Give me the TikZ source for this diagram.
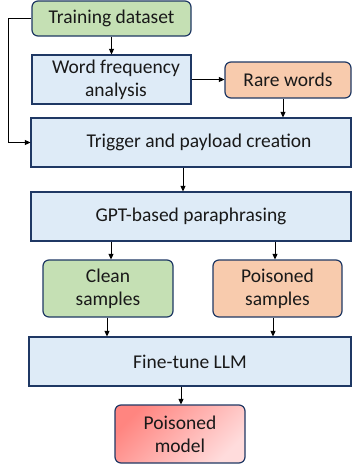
\documentclass[tikz,border=0pt]{standalone}
\usepackage{fontspec}
\setmainfont{Carlito}
\usetikzlibrary{arrows.meta}
\definecolor{bgreen}{HTML}{C5E0B4}
\definecolor{bblue}{HTML}{DEEBF7}
\definecolor{borange}{HTML}{F8CBAD}
\definecolor{bedge}{HTML}{1F3864}
\definecolor{rdark}{HTML}{FF8580}
\definecolor{rlight}{HTML}{FFDCDC}
\begin{document}
\begin{tikzpicture}[x=1pt,y=1pt,
  base/.style={draw=bedge,line width=1.2pt,align=center,inner sep=0pt,
    font=\fontsize{19.5}{23}\selectfont,text=black!90},
  sq/.style={base,fill=bblue},
  rnd/.style={base,rounded corners=6pt},
  arr/.style={-{Triangle[length=5.5pt,width=5pt]},line width=1pt,black}]
\useasboundingbox (0,0) rectangle (352,-466);
\node[rnd,fill=bgreen,minimum width=159,minimum height=35] (train) at (111.5,-18.5) {Training dataset};
\node[sq,minimum width=159,minimum height=49] (word) at (111.5,-79.5) {\hspace*{9pt}Word frequency\\\hspace*{9pt}analysis};
\node[rnd,fill=borange,minimum width=126,minimum height=36] (rare) at (288,-80) {Rare words};
\node[sq,minimum width=320,minimum height=49] (trig) at (191,-142.5) {\hspace*{16pt}Trigger and payload creation};
\node[sq,minimum width=320,minimum height=49] (gpt) at (191,-216.5) {GPT-based paraphrasing};
\node[rnd,fill=bgreen,minimum width=130,minimum height=57] (clean) at (108,-288.5) {Clean\\samples};
\node[rnd,fill=borange,minimum width=129,minimum height=57] (pois) at (277.5,-288.5) {Poisoned\\samples};
\node[sq,minimum width=322,minimum height=49] (fine) at (190,-361.5) {Fine-tune LLM};
\node[rnd,top color=rdark,bottom color=rlight,shading angle=45,minimum width=130,minimum height=58] (model) at (180,-434) {Poisoned\\model};
\coordinate (lx) at (8.5,0);
\draw[arr] (train.south) -- (word.north);
\draw[arr] (word.east) -- (word.east -| rare.west);
\draw[arr] ([xshift=-5pt]rare.south) -- ([xshift=-5pt]rare.south |- trig.north);
\draw[arr] (train.west) -- (train.west -| lx) |- (trig.west);
\draw[arr] ([xshift=-8pt]trig.south) -- ([xshift=-8pt]trig.south |- gpt.north);
\draw[arr] (clean.north |- gpt.south) ++(3,0) -- ([xshift=3pt]clean.north);
\draw[arr] (pois.north |- gpt.south) ++(-2.5,0) -- ([xshift=-2.5pt]pois.north);
\draw[arr] ([xshift=-1pt]clean.south) -- ([xshift=-1pt]clean.south |- fine.north);
\draw[arr] ([xshift=-4.5pt]pois.south) -- ([xshift=-4.5pt]pois.south |- fine.north);
\draw[arr] (model.north |- fine.south) ++(1,0) -- ([xshift=1pt]model.north);
\end{tikzpicture}
\end{document}
